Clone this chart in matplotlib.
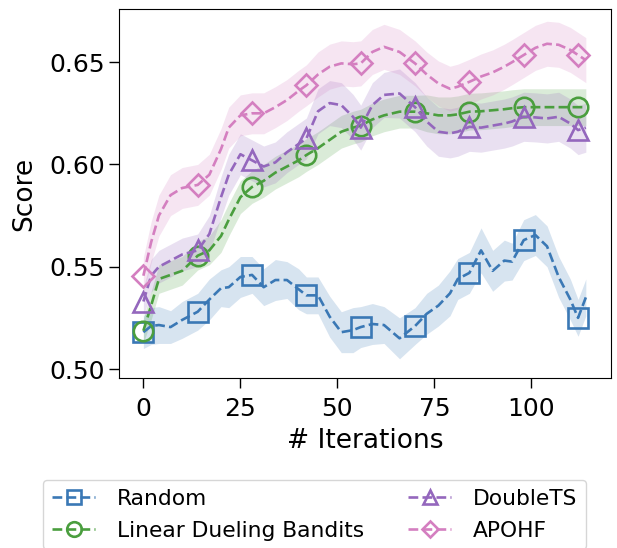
import matplotlib
matplotlib.use("Agg")
import matplotlib.pyplot as plt
import numpy as np

iters = [0, 2, 4, 7, 10, 14, 17, 20, 22, 25, 28, 31, 34, 37, 40, 42, 45, 48, 51, 54, 56,
         59, 62, 66, 70, 73, 76, 79, 81, 84, 87, 90, 93, 95, 98, 101, 104, 107, 110, 112, 114]

random_mean = [0.518, 0.521, 0.5215, 0.5205, 0.524, 0.528, 0.534, 0.5395, 0.540, 0.545, 0.546,
               0.540, 0.5435, 0.5435, 0.539, 0.536, 0.536, 0.5256, 0.518, 0.519, 0.5205,
               0.522, 0.5215, 0.515, 0.521, 0.527, 0.531, 0.537, 0.544, 0.547, 0.558, 0.548,
               0.553, 0.5525, 0.563, 0.5655, 0.560, 0.545, 0.534, 0.525, 0.535]
random_err = [0.008, 0.009, 0.009, 0.008, 0.009, 0.009, 0.010, 0.009, 0.010, 0.010, 0.009,
              0.009, 0.010, 0.009, 0.010, 0.009, 0.009, 0.010, 0.010, 0.011, 0.010,
              0.010, 0.009, 0.010, 0.009, 0.010, 0.010, 0.011, 0.010, 0.010, 0.011, 0.010,
              0.010, 0.009, 0.010, 0.010, 0.010, 0.010, 0.010, 0.009, 0.009]

ldb_mean = [0.5187, 0.531, 0.544, 0.546, 0.548, 0.5554, 0.558, 0.565, 0.573, 0.584, 0.589,
            0.592, 0.596, 0.599, 0.602, 0.6046, 0.608, 0.612, 0.616, 0.618, 0.619,
            0.622, 0.624, 0.6258, 0.6258, 0.625, 0.624, 0.624, 0.6245, 0.6258, 0.626, 0.6265,
            0.627, 0.6275, 0.628, 0.628, 0.628, 0.628, 0.628, 0.628, 0.628]
ldb_err = [0.006, 0.007, 0.007, 0.007, 0.007, 0.007, 0.007, 0.008, 0.008, 0.008, 0.008,
           0.008, 0.008, 0.008, 0.008, 0.008, 0.008, 0.008, 0.008, 0.008, 0.008,
           0.008, 0.008, 0.008, 0.008, 0.009, 0.009, 0.009, 0.009, 0.009, 0.009, 0.009,
           0.009, 0.009, 0.009, 0.009, 0.009, 0.009, 0.009, 0.009, 0.009]

dts_mean = [0.533, 0.5456, 0.550, 0.553, 0.556, 0.558, 0.566, 0.584, 0.595, 0.605, 0.602,
            0.599, 0.601, 0.606, 0.610, 0.6127, 0.626, 0.630, 0.629, 0.6233, 0.618,
            0.629, 0.634, 0.6347, 0.628, 0.621, 0.616, 0.6152, 0.616, 0.6184, 0.618, 0.619,
            0.620, 0.621, 0.6233, 0.623, 0.6225, 0.6233, 0.620, 0.6168, 0.618]
dts_err = [0.007, 0.008, 0.008, 0.008, 0.008, 0.008, 0.009, 0.010, 0.010, 0.010, 0.010,
           0.010, 0.010, 0.010, 0.010, 0.010, 0.011, 0.011, 0.011, 0.011, 0.011,
           0.011, 0.011, 0.012, 0.012, 0.012, 0.012, 0.012, 0.012, 0.012, 0.012, 0.012,
           0.012, 0.012, 0.012, 0.012, 0.012, 0.012, 0.012, 0.012, 0.012]

apohf_mean = [0.5456, 0.562, 0.575, 0.585, 0.5885, 0.590, 0.595, 0.6075, 0.618, 0.624, 0.625,
              0.625, 0.628, 0.6315, 0.636, 0.6387, 0.644, 0.6478, 0.6494, 0.649, 0.6494,
              0.655, 0.6575, 0.655, 0.6494, 0.644, 0.6396, 0.637, 0.638, 0.6404, 0.643, 0.645,
              0.6478, 0.650, 0.6535, 0.657, 0.659, 0.6585, 0.656, 0.6535, 0.651]
apohf_err = [0.009, 0.010, 0.010, 0.010, 0.010, 0.010, 0.010, 0.010, 0.010, 0.010, 0.010,
             0.010, 0.010, 0.010, 0.010, 0.010, 0.011, 0.011, 0.011, 0.011, 0.011,
             0.011, 0.011, 0.011, 0.011, 0.011, 0.011, 0.011, 0.011, 0.011, 0.011, 0.011,
             0.011, 0.011, 0.011, 0.011, 0.011, 0.011, 0.011, 0.011, 0.011]

labels = ["Random", "Linear Dueling Bandits", "DoubleTS", "APOHF"]
colors = ["#3a78b5", "#4a9e3e", "#9467bd", "#d47fc0"]
markers = ["s", "o", "^", "D"]
msizes = [14, 14, 14, 11]
means = [random_mean, ldb_mean, dts_mean, apohf_mean]
errs = [random_err, ldb_err, dts_err, apohf_err]

xticks = [0, 25, 50, 75, 100]
yticks = [0.50, 0.55, 0.60, 0.65]

fig = plt.figure(figsize=(6.17, 5.48), dpi=100)
ax = fig.add_axes([0.193, 0.3102, 0.798, 0.6734])

x = np.array(iters)
mark_idx = [i for i, v in enumerate(iters) if v % 14 == 0]
handles = []
for lab, c, m, ms, mu, e in zip(labels, colors, markers, msizes, means, errs):
    mu = np.array(mu)
    e = np.array(e)
    ax.fill_between(x, mu - e, mu + e, color=c, alpha=0.2, linewidth=0)
    h, = ax.plot(x, mu, linestyle="--", color=c, linewidth=1.9, marker=m,
                 markersize=ms, markerfacecolor="none", markeredgewidth=1.9,
                 markevery=mark_idx, label=lab)
    handles.append(h)

ax.set_xlim(-6.26, 120.6)
ax.set_ylim(0.4956, 0.676)
ax.set_xticks(xticks)
ax.set_yticks(yticks)
ax.set_yticklabels([f"{v:.2f}" for v in yticks])
ax.tick_params(labelsize=18, length=7, width=1)
ax.tick_params(axis="x", pad=7)
ax.tick_params(axis="y", pad=3)
ax.set_xlabel("# Iterations", fontsize=19, labelpad=5)
ax.set_ylabel("Score", fontsize=19, labelpad=9)

fig.legend(handles=handles, loc="upper center", bbox_to_anchor=(0.51, 0.124),
           borderaxespad=0, ncol=2, fontsize=15.7, handlelength=2.0,
           handletextpad=1.0, columnspacing=2.0, labelspacing=0.55,
           markerscale=0.75, frameon=True, fancybox=True, edgecolor="#cccccc")

fig.savefig("out.png", dpi=100)
